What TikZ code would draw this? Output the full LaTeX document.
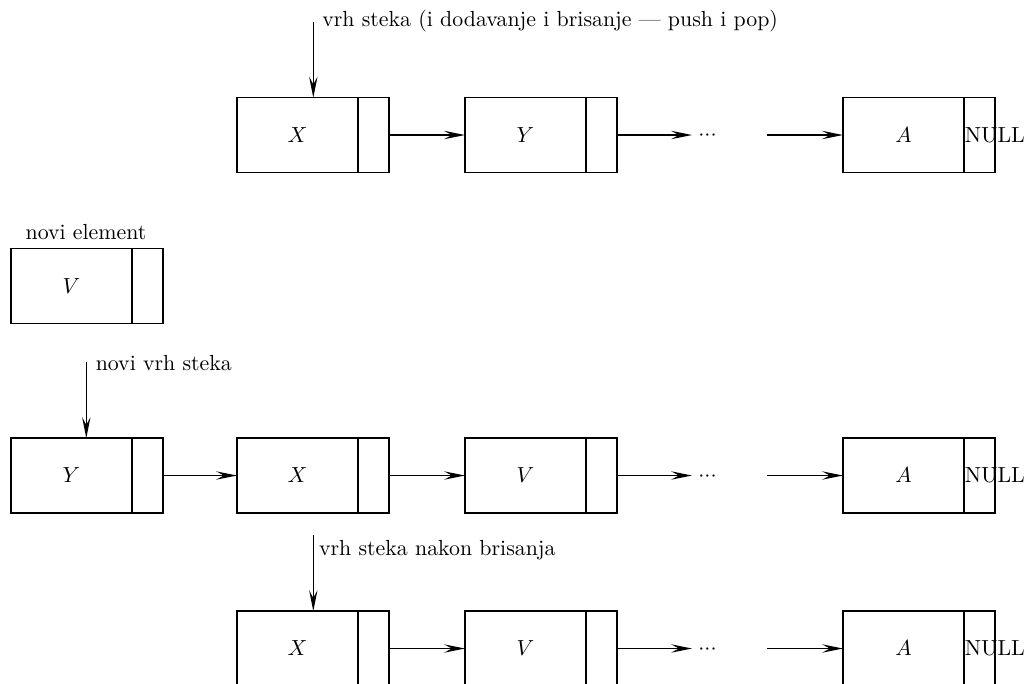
\documentclass[tikz,border=0pt]{standalone}
\usetikzlibrary{arrows.meta}
\begin{document}
\begin{tikzpicture}[x=0.4577pt,y=-0.4577pt, line width=0.7pt,
  data/.style={draw, minimum width=55.4pt, minimum height=34.3pt, inner sep=0pt, outer sep=0pt},
  ptr/.style={draw, minimum width=14.2pt, minimum height=34.3pt, inner sep=0pt, outer sep=0pt, anchor=west},
  link/.style={-{Stealth[length=9.5pt,width=3.8pt,inset=3.5pt]}},
  lbl/.style={anchor=mid west, inner sep=0pt},
  dotsnode/.style={anchor=base, inner sep=0pt},
  nullnode/.style={anchor=west, inner sep=0pt}]
\clip (0,0) rectangle (1026,684);
% ---- row 1
\node[data] (r1x) at (297.5,135) {$X$};
\node[ptr] (r1xp) at (r1x.east) {};
\node[data] (r1y) at (525.5,135) {$Y$};
\node[ptr] (r1yp) at (r1y.east) {};
\node[data] (r1a) at (903.5,135) {$A$};
\node[ptr] (r1ap) at (r1a.east) {};
\node[nullnode] (r1n) at (r1ap.west) {NULL};
\coordinate (r1e) at (692,135);
\node[dotsnode] (r1d) at (707.5,140.5) {${\cdotp}{\cdotp}{\cdotp}$};
\coordinate (r1s) at (767,135);
\draw[link] (r1xp.east) -- (r1y.west);
\draw[link] (r1yp.east) -- (r1e);
\draw[link] (r1s) -- (r1a.west);
\coordinate (r1t) at (313.3,21.7);
\draw[link] (r1t) -- (r1t |- r1x.north);
\node[lbl] (r1l) at (321.5,21.7) {vrh steka (i dodavanje i brisanje --- push i pop)};
% ---- row 2
\node[data] (r2v) at (71.5,286.2) {$V$};
\node[ptr] (r2vp) at (r2v.east) {};
\node[anchor=mid, inner sep=0pt] (r2l) at (86,235) {novi element};
% ---- row 3
\node[data] (r3y) at (71.5,475.5) {$Y$};
\node[ptr] (r3yp) at (r3y.east) {};
\node[data] (r3x) at (297.5,475.5) {$X$};
\node[ptr] (r3xp) at (r3x.east) {};
\node[data] (r3v) at (525.5,475.5) {$V$};
\node[ptr] (r3vp) at (r3v.east) {};
\node[data] (r3a) at (903.5,475.5) {$A$};
\node[ptr] (r3ap) at (r3a.east) {};
\node[nullnode] (r3n) at (r3ap.west) {NULL};
\coordinate (r3e) at (692,475.5);
\node[dotsnode] (r3d) at (707.5,481) {${\cdotp}{\cdotp}{\cdotp}$};
\coordinate (r3s) at (767,475.5);
\draw[link] (r3yp.east) -- (r3x.west);
\draw[link] (r3xp.east) -- (r3v.west);
\draw[link] (r3vp.east) -- (r3e);
\draw[link] (r3s) -- (r3a.west);
\coordinate (r3t) at (86.3,361.7);
\draw[link] (r3t) -- (r3t |- r3y.north);
\node[lbl] (r3l) at (95,365.3) {novi vrh steka};
% ---- row 4
\node[data] (r4x) at (297.5,648.5) {$X$};
\node[ptr] (r4xp) at (r4x.east) {};
\node[data] (r4v) at (525.5,648.5) {$V$};
\node[ptr] (r4vp) at (r4v.east) {};
\node[data] (r4a) at (903.5,648.5) {$A$};
\node[ptr] (r4ap) at (r4a.east) {};
\node[nullnode] (r4n) at (r4ap.west) {NULL};
\coordinate (r4e) at (692,648.5);
\node[dotsnode] (r4d) at (707.5,654) {${\cdotp}{\cdotp}{\cdotp}$};
\coordinate (r4s) at (767,648.5);
\draw[link] (r4xp.east) -- (r4v.west);
\draw[link] (r4vp.east) -- (r4e);
\draw[link] (r4s) -- (r4a.west);
\coordinate (r4t) at (313.3,535);
\draw[link] (r4t) -- (r4t |- r4x.north);
\node[lbl] (r4l) at (318.3,550.5) {vrh steka nakon brisanja};
\end{tikzpicture}
\end{document}
